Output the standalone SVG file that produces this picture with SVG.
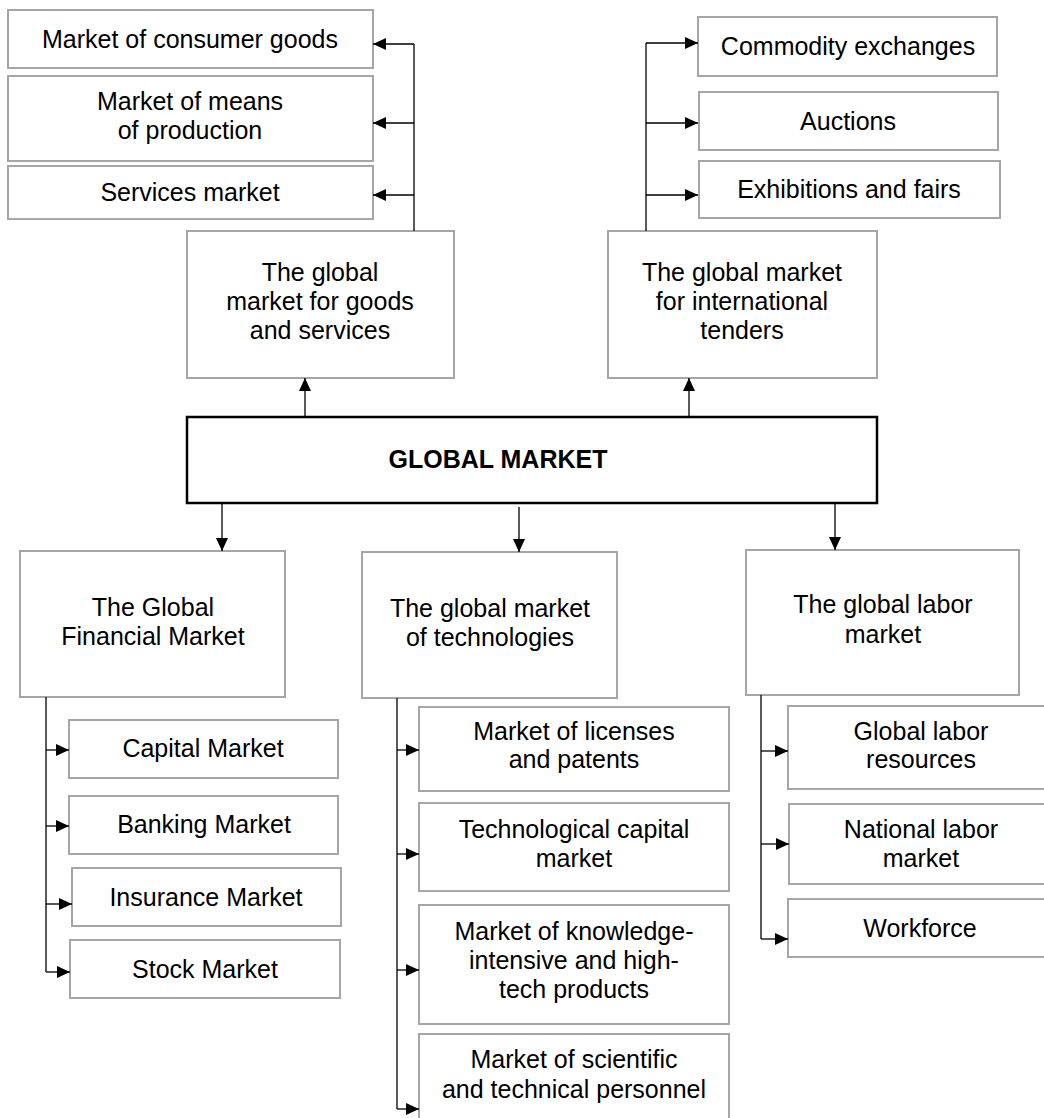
<svg xmlns="http://www.w3.org/2000/svg" width="1044" height="1118" viewBox="0 0 1044 1118">
<defs>
<marker id="arr" markerUnits="userSpaceOnUse" markerWidth="14" markerHeight="12" refX="13" refY="6" orient="auto">
<path d="M0,0 L13,6 L0,12 z" fill="#000"/>
</marker>
<style>
.box{fill:#fff;stroke:#a6a6a6;stroke-width:2}
.main{fill:#fff;stroke:#000;stroke-width:2.5}
text{font-family:"Liberation Sans",Arial,sans-serif;font-size:25px;fill:#000;text-anchor:middle}
.b{font-weight:bold}
.c{fill:none;stroke:#000;stroke-width:1.3}
.a{fill:none;stroke:#000;stroke-width:1.3;marker-end:url(#arr)}
</style>
</defs>
<rect width="1044" height="1118" fill="#fff"/>

<g id="consumer-goods"><rect class="box" x="8" y="10" width="365" height="58"/><text x="190" y="48">Market of consumer goods</text></g>
<g id="means-of-production"><rect class="box" x="8" y="76" width="365" height="85"/><text x="190" y="110">Market of means</text><text x="190" y="139">of production</text></g>
<g id="services-market"><rect class="box" x="8" y="166" width="365" height="53"/><text x="190" y="201">Services market</text></g>

<g id="commodity-exchanges"><rect class="box" x="698" y="17" width="299" height="59"/><text x="848" y="55">Commodity exchanges</text></g>
<g id="auctions"><rect class="box" x="699" y="92" width="299" height="58"/><text x="848" y="130">Auctions</text></g>
<g id="exhibitions"><rect class="box" x="699" y="161" width="301" height="57"/><text x="849" y="198">Exhibitions and fairs</text></g>

<g id="goods-services"><rect class="box" x="187" y="231" width="267" height="147"/><text x="320" y="281">The global</text><text x="320" y="310">market for goods</text><text x="320" y="339">and services</text></g>
<g id="tenders"><rect class="box" x="608" y="231" width="269" height="147"/><text x="742" y="281">The global market</text><text x="742" y="310">for international</text><text x="742" y="339">tenders</text></g>

<g id="global-market"><rect class="main" x="187" y="417" width="690" height="86"/><text class="b" x="498" y="468">GLOBAL MARKET</text></g>

<g id="financial"><rect class="box" x="20" y="551" width="265" height="146"/><text x="153" y="616">The Global</text><text x="153" y="645">Financial Market</text></g>
<g id="technologies"><rect class="box" x="362" y="552" width="255" height="146"/><text x="490" y="617">The global market</text><text x="490" y="646">of technologies</text></g>
<g id="labor"><rect class="box" x="746" y="550" width="273" height="145"/><text x="883" y="613">The global labor</text><text x="883" y="643">market</text></g>

<g id="capital-market"><rect class="box" x="69" y="720" width="269" height="58"/><text x="203" y="757">Capital Market</text></g>
<g id="banking-market"><rect class="box" x="69" y="796" width="269" height="58"/><text x="204" y="833">Banking Market</text></g>
<g id="insurance-market"><rect class="box" x="72" y="868" width="269" height="58"/><text x="206" y="906">Insurance Market</text></g>
<g id="stock-market"><rect class="box" x="70" y="940" width="270" height="58"/><text x="205" y="978">Stock Market</text></g>

<g id="licenses"><rect class="box" x="419" y="707" width="310" height="84"/><text x="574" y="740">Market of licenses</text><text x="574" y="768">and patents</text></g>
<g id="tech-capital"><rect class="box" x="419" y="803" width="310" height="88"/><text x="574" y="838">Technological capital</text><text x="574" y="867">market</text></g>
<g id="knowledge"><rect class="box" x="419" y="905" width="310" height="119"/><text x="574" y="940">Market of knowledge-</text><text x="574" y="969">intensive and high-</text><text x="574" y="998">tech products</text></g>
<g id="scientific"><rect class="box" x="419" y="1034" width="310" height="100"/><text x="574" y="1068">Market of scientific</text><text x="574" y="1098">and technical personnel</text></g>

<g id="labor-resources"><rect class="box" x="788" y="706" width="266" height="83"/><text x="921" y="740">Global labor</text><text x="921" y="768">resources</text></g>
<g id="national-labor"><rect class="box" x="789" y="804" width="265" height="80"/><text x="921" y="838">National labor</text><text x="921" y="867">market</text></g>
<g id="workforce"><rect class="box" x="788" y="899" width="266" height="58"/><text x="920" y="937">Workforce</text></g>

<g id="connectors">
<path class="c" d="M414,231 V44"/>
<path class="a" d="M414,44 H373"/>
<path class="a" d="M414,123 H373"/>
<path class="a" d="M414,195 H373"/>
<path class="c" d="M646,231 V43"/>
<path class="a" d="M646,43 H698"/>
<path class="a" d="M646,123 H698"/>
<path class="a" d="M646,195 H698"/>
<path class="a" d="M305,417 V378"/>
<path class="a" d="M689,417 V378"/>
<path class="a" d="M222,503 V551"/>
<path class="a" d="M519,507 V552"/>
<path class="a" d="M835,503 V550"/>
<path class="c" d="M46,697 V972"/>
<path class="a" d="M46,750 H69"/>
<path class="a" d="M46,826 H69"/>
<path class="a" d="M46,904 H72"/>
<path class="a" d="M46,972 H70"/>
<path class="c" d="M397,698 V1109"/>
<path class="a" d="M397,750 H419"/>
<path class="a" d="M397,854 H419"/>
<path class="a" d="M397,970 H419"/>
<path class="a" d="M397,1109 H419"/>
<path class="c" d="M761,695 V939"/>
<path class="a" d="M761,751 H788"/>
<path class="a" d="M761,844 H789"/>
<path class="a" d="M761,939 H788"/>
</g>
</svg>
